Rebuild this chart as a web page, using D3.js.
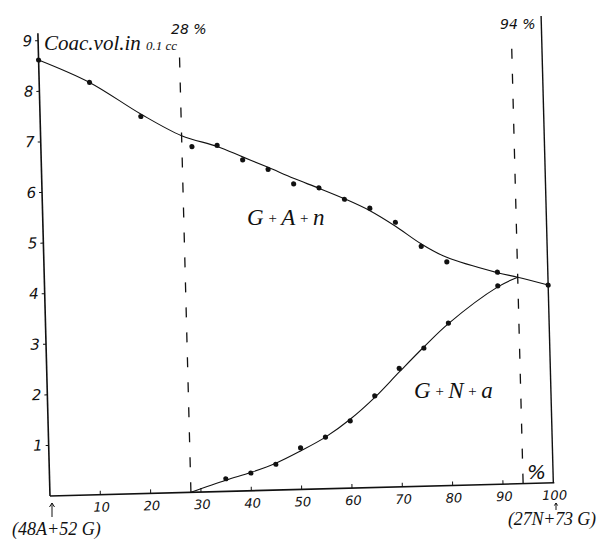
<!DOCTYPE html>
<html>
<head>
<meta charset="utf-8">
<script src="https://cdn.jsdelivr.net/npm/d3@7"></script>
<style>
body{margin:0;background:#fff;}
svg{display:block;}
text{fill:#111;}
</style>
</head>
<body>
<svg width="598" height="541"></svg>
<script>
// measured points, curve G+A+n
var upperX = [0,10,20,30,35,40,45,50,55,60,65,70,75,80,90,100];
var upperY = [8.62,8.15,7.45,6.83,6.84,6.54,6.34,6.04,5.95,5.71,5.52,5.23,4.74,4.42,4.19,3.91];
// measured points, curve G+N+a
var lowerX = [35,40,45,50,55,60,65,70,75,80,90];
var lowerY = [0.25,0.35,0.51,0.82,1.02,1.33,1.81,2.34,2.73,3.21,3.92];
// the hand drawn lines
var upperLineX = [0,10,20,28,35,40,45,50,55,60,65,70,75,80,90,94,100];
var upperLineY = [8.62,8.15,7.5,7.05,6.82,6.6,6.38,6.15,5.94,5.72,5.47,5.15,4.79,4.51,4.18,4.08,3.91];
var lowerLineX = [28,35,40,45,50,55,60,65,70,75,80,90,94];
var lowerLineY = [0,0.22,0.36,0.53,0.76,1.02,1.36,1.78,2.27,2.75,3.2,3.9,4.08];
var xTicks = [10,20,30,40,50,60,70,80,90];
var xLabels = [10,20,30,40,50,60,70,80,90,100];
var yTicks = [1,2,3,4,5,6,7,8,9];
var dashAt = [28,94];

var svg = d3.select('svg');
// paper is drawn slightly tilted
var g = svg.append('g').attr('transform','rotate(-1.5,50,496)');

var x = d3.scaleLinear().domain([0,100]).range([50,553.5]);
var y = d3.scaleLinear().domain([0,9]).range([496,40.6]);

var numFont = "'DejaVu Sans', sans-serif";
var handFont = "'Liberation Serif', serif";

// axes
g.append('line').attr('x1',x(0)).attr('y1',y(0)).attr('x2',x(0)).attr('y2',y(9.15))
  .attr('stroke','#111').attr('stroke-width',1.6);
g.append('line').attr('x1',x(0)).attr('y1',y(0)).attr('x2',x(100)+1).attr('y2',y(0))
  .attr('stroke','#111').attr('stroke-width',1.6);
g.append('line').attr('x1',x(100)).attr('y1',y(0)).attr('x2',x(100)).attr('y2',y(9.23))
  .attr('stroke','#111').attr('stroke-width',1.4);

// ticks
g.selectAll('.yt').data(yTicks).enter().append('line')
  .attr('x1',x(0)-3).attr('x2',x(0)).attr('y1',function(d){return y(d);}).attr('y2',function(d){return y(d);})
  .attr('stroke','#111').attr('stroke-width',1);
g.selectAll('.ytl').data(yTicks).enter().append('text')
  .attr('x',x(0)-6).attr('y',function(d){return y(d)+5;})
  .attr('text-anchor','end').attr('font-family',numFont).attr('font-style','italic')
  .attr('font-size',15).text(function(d){return d;});
g.selectAll('.xt').data(xTicks).enter().append('line')
  .attr('x1',function(d){return x(d);}).attr('x2',function(d){return x(d);})
  .attr('y1',y(0)).attr('y2',y(0)-4).attr('stroke','#111').attr('stroke-width',1);
g.selectAll('.xtl').data(xLabels).enter().append('text')
  .attr('x',function(d){return x(d)+1;}).attr('y',y(0)+17)
  .attr('text-anchor','middle').attr('font-family',numFont).attr('font-style','italic')
  .attr('font-size',13).text(function(d){return d;});

// dashed lines
g.selectAll('.dash').data(dashAt).enter().append('line')
  .attr('x1',function(d){return x(d);}).attr('x2',function(d){return x(d);})
  .attr('y1',y(0)).attr('y2',y(8.76))
  .attr('stroke','#111').attr('stroke-width',1.3).attr('stroke-dasharray','10,15');

// curves
var line = d3.line().curve(d3.curveCatmullRom.alpha(0.5));
g.append('path').attr('d',line(upperLineX.map(function(d,i){return [x(d),y(upperLineY[i])];})))
  .attr('fill','none').attr('stroke','#111').attr('stroke-width',1.1);
g.append('path').attr('d',line(lowerLineX.map(function(d,i){return [x(d),y(lowerLineY[i])];})))
  .attr('fill','none').attr('stroke','#111').attr('stroke-width',1.1);

// points
g.selectAll('.pu').data(upperX).enter().append('circle')
  .attr('cx',function(d){return x(d);}).attr('cy',function(d,i){return y(upperY[i]);})
  .attr('r',2.6).attr('fill','#111');
g.selectAll('.pl').data(lowerX).enter().append('circle')
  .attr('cx',function(d){return x(d);}).attr('cy',function(d,i){return y(lowerY[i]);})
  .attr('r',2.6).attr('fill','#111');

// texts
var t = svg.append('text').attr('x',44).attr('y',50).attr('font-family',handFont)
  .attr('font-style','italic').attr('font-size',21);
t.append('tspan').text('Coac.vol.in ');
t.append('tspan').attr('font-size',13).text('0.1 cc');

svg.append('text').attr('x',171).attr('y',34).attr('font-family',numFont).attr('font-style','italic')
  .attr('font-size',14).text('28 %');
svg.append('text').attr('x',500).attr('y',29).attr('font-family',numFont).attr('font-style','italic')
  .attr('font-size',14).text('94 %');
svg.append('text').attr('x',527).attr('y',479).attr('font-family',numFont).attr('font-style','italic')
  .attr('font-size',20).text('%');

function seriesLabel(px, py, a, b, c) {
  var s = svg.append('text').attr('x',px).attr('y',py).attr('font-family',handFont)
    .attr('font-style','italic').attr('font-size',23);
  s.append('tspan').text(a);
  s.append('tspan').attr('font-size',15).attr('dy',-2).text(' + ');
  s.append('tspan').attr('dy',2).text(b);
  s.append('tspan').attr('font-size',15).attr('dy',-2).text(' + ');
  s.append('tspan').attr('dy',2).text(c);
}
seriesLabel(247, 225, 'G', 'A', 'n');
seriesLabel(414, 398, 'G', 'N', 'a');

// composition marks at both ends
function arrow(px, top, bottom, head) {
  svg.append('line').attr('x1',px).attr('x2',px).attr('y1',top).attr('y2',bottom)
    .attr('stroke','#111').attr('stroke-width',1);
  svg.append('path').attr('d','M'+(px-head)+','+(top+head*1.6)+'L'+px+','+top+'L'+(px+head)+','+(top+head*1.6))
    .attr('fill','none').attr('stroke','#111').attr('stroke-width',1);
}
arrow(52, 503, 517, 2.5);
arrow(556, 503, 510, 1.6);
svg.append('text').attr('x',12).attr('y',535).attr('font-family',handFont).attr('font-style','italic')
  .attr('font-size',18).text('(48A+52 G)');
svg.append('text').attr('x',508).attr('y',525).attr('font-family',handFont).attr('font-style','italic')
  .attr('font-size',18).attr('textLength',88).text('(27N+73 G)');
</script>
</body>
</html>
